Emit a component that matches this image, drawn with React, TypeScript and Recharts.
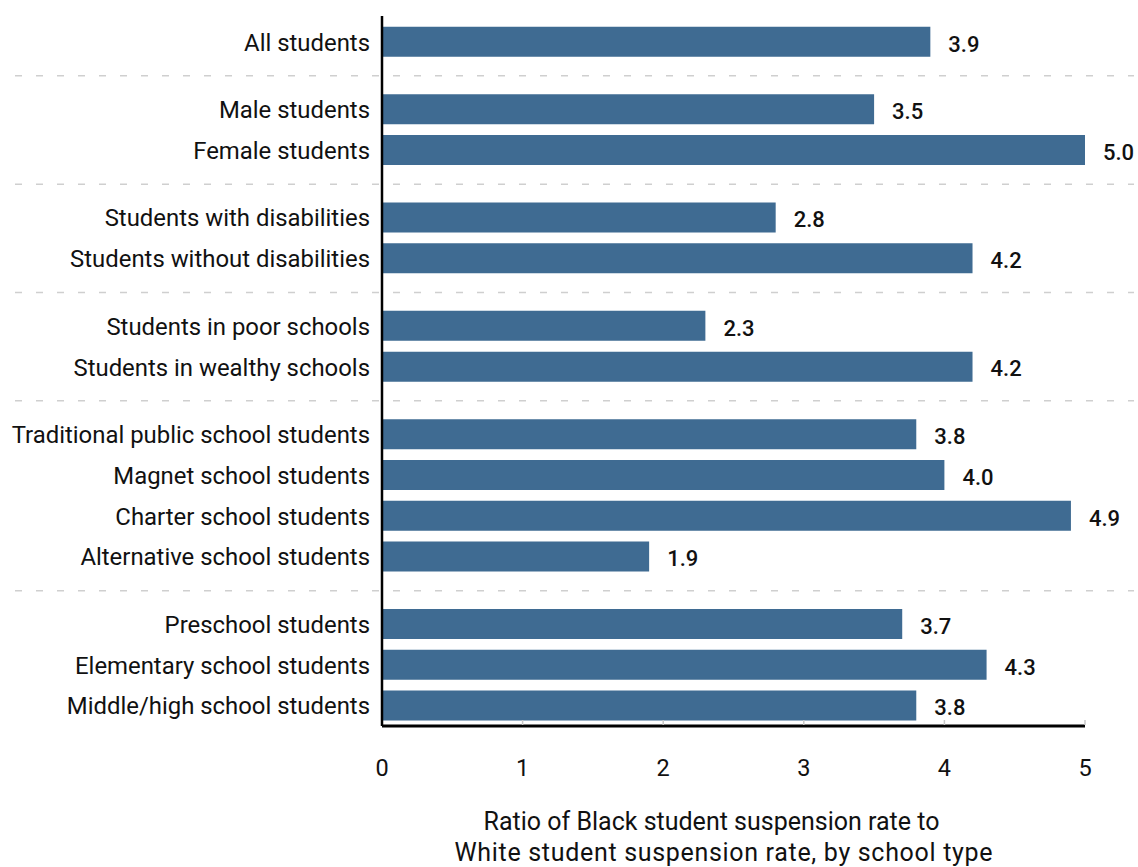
import { BarChart, Bar, XAxis, YAxis, LabelList, ReferenceLine, Label } from "recharts";

const categories = [
  "All students",
  "Male students",
  "Female students",
  "Students with disabilities",
  "Students without disabilities",
  "Students in poor schools",
  "Students in wealthy schools",
  "Traditional public school students",
  "Magnet school students",
  "Charter school students",
  "Alternative school students",
  "Preschool students",
  "Elementary school students",
  "Middle/high school students",
];
const ratios = [3.9, 3.5, 5.0, 2.8, 4.2, 2.3, 4.2, 3.8, 4.0, 4.9, 1.9, 3.7, 4.3, 3.8];
const groups = [0, 1, 1, 2, 2, 3, 3, 4, 4, 4, 4, 5, 5, 5];
const xTicks = [0, 1, 2, 3, 4, 5];

// extra space between groups, in row units
const GROUP_GAP = 0.655;

const data = categories.map((name, i) => ({
  name,
  value: ratios[i],
  pos: i + groups[i] * GROUP_GAP,
}));

const separators: number[] = [];
for (let i = 1; i < data.length; i++) {
  if (groups[i] !== groups[i - 1]) separators.push((data[i - 1].pos + data[i].pos) / 2);
}

const nameByPos = new Map(data.map((d) => [d.pos, d.name]));
const lastPos = data[data.length - 1].pos;

const BAR = "#3f6b92";

const XTick = (props: any) => {
  const { x, y, payload } = props;
  return (
    <g>
      {payload.value !== 0 && <line x1={x} x2={x} y1={y - 6} y2={y - 1} stroke="#c8c8c8" strokeWidth={1.5} />}
      <text x={x} y={y + 50} textAnchor="middle" fill="#111" fontSize={23.5} fontFamily="Roboto">
        {payload.value}
      </text>
    </g>
  );
};

const AxisTitle = (props: any) => {
  const vb = props.viewBox;
  const cx = vb.x + vb.width / 2;
  return (
    <g fontFamily="Roboto" fontSize={25} fill="#111" textAnchor="middle">
      <text x={cx - 22} y={vb.y + 104}>Ratio of Black student suspension rate to</text>
      <text x={cx - 10} y={vb.y + 135} textLength={538} lengthAdjust="spacing">
        White student suspension rate, by school type
      </text>
    </g>
  );
};

const SepLine = (props: any) => (
  <line x1={15} x2={1134} y1={props.y1} y2={props.y2} stroke="#cfcfcf" strokeWidth={1.5} strokeDasharray="7 14" />
);

export default function App() {
  return (
    <div style={{ position: "absolute", left: 0, top: 0, fontFamily: "Roboto" }}>
      <BarChart
        width={1138}
        height={867}
        data={data}
        layout="vertical"
        margin={{ top: 16, right: 53, left: 0, bottom: 0 }}
      >
        {separators.map((s) => (
          <ReferenceLine key={s} y={s} shape={SepLine} />
        ))}
        <XAxis
          type="number"
          domain={[0, 5]}
          ticks={xTicks}
          height={141}
          tickLine={false}
          tickSize={0}
          tickMargin={0}
          tick={<XTick />}
          axisLine={{ stroke: "#000", strokeWidth: 3 }}
        >
          <Label content={<AxisTitle />} />
        </XAxis>
        <YAxis
          type="number"
          dataKey="pos"
          domain={[-0.64, lastPos + 0.49]}
          ticks={data.map((d) => d.pos)}
          interval={0}
          width={382}
          tickLine={false}
          tickSize={0}
          tickMargin={12}
          tickFormatter={(v: number) => nameByPos.get(v) ?? ""}
          tick={{ fill: "#111", fontSize: 23.9, fontFamily: "Roboto" }}
          axisLine={{ stroke: "#000", strokeWidth: 2.5 }}
        />
        <Bar dataKey="value" fill={BAR} barSize={30} isAnimationActive={false}>
          <LabelList
            dataKey="value"
            position="right"
            offset={18}
            dy={2}
            fill="#111"
            fontSize={22}
            fontWeight={500}
            fontFamily="Roboto"
            formatter={(v: any) => Number(v).toFixed(1)}
          />
        </Bar>
      </BarChart>
    </div>
  );
}
